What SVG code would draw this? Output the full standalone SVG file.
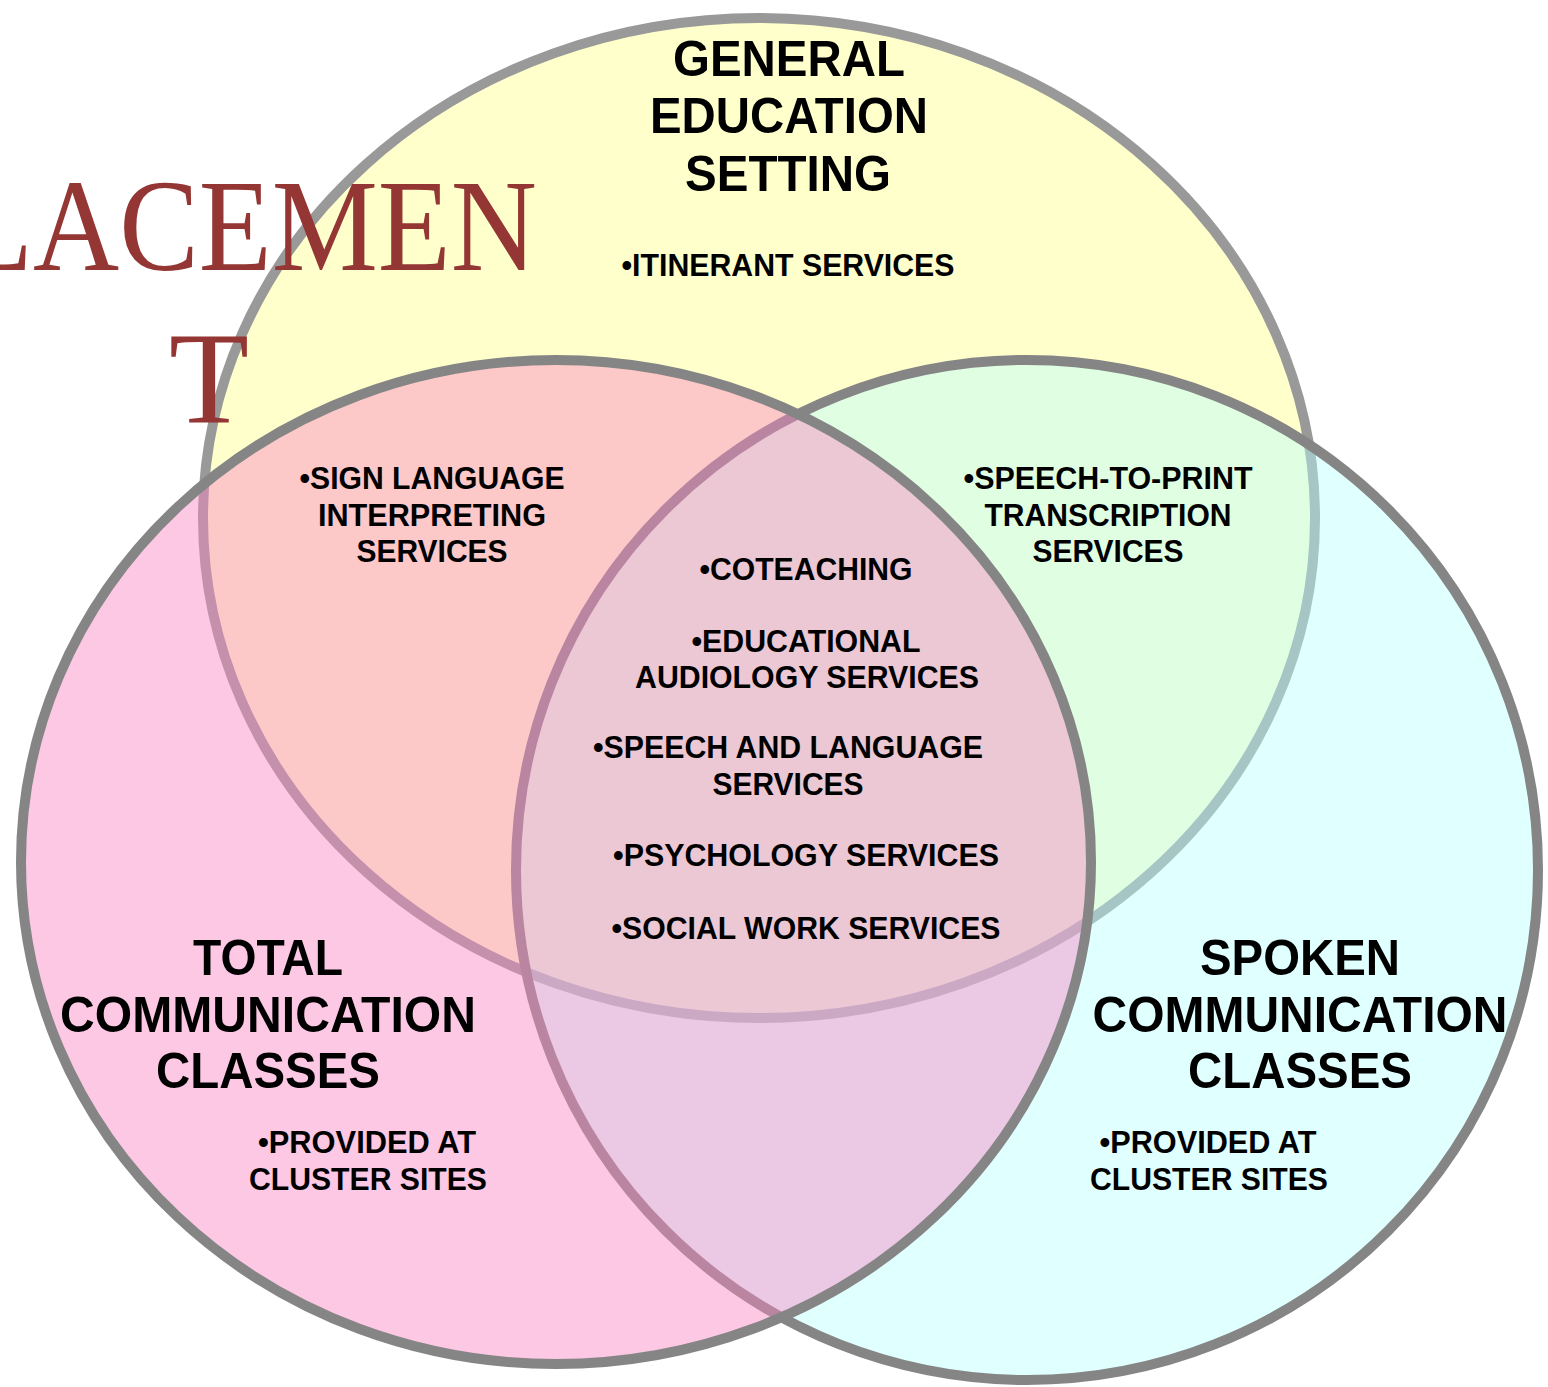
<svg xmlns="http://www.w3.org/2000/svg" width="1548" height="1387" viewBox="0 0 1548 1387">
<style>
.title{font-family:"Liberation Sans",Arial,sans-serif;font-weight:bold;font-size:50px;fill:#000;text-anchor:middle}
.item{font-family:"Liberation Sans",Arial,sans-serif;font-weight:bold;font-size:31px;fill:#000;text-anchor:middle}
.red{font-family:"Liberation Serif","Times New Roman",serif;font-size:131px;fill:#943634}
</style>
<rect width="1548" height="1387" fill="#ffffff"/>
<g id="general-education">
<ellipse cx="759" cy="518" rx="556" ry="500" fill="#FFFFCC" stroke="#999999" stroke-width="10"/>
</g>
<g id="spoken-communication">
<ellipse cx="1027" cy="870" rx="511" ry="510" fill="#B8FFFF" fill-opacity="0.43" stroke="#858585" stroke-width="10"/>
</g>
<g id="total-communication">
<ellipse cx="556" cy="862" rx="535" ry="502" fill="#F885C3" fill-opacity="0.45" stroke="#858585" stroke-width="10"/>
</g>
<g id="connectors"></g>
<g id="placement-title">
<text class="red" x="-40" y="270" textLength="577" lengthAdjust="spacingAndGlyphs">LACEMEN</text>
<text class="red" x="209" y="423" text-anchor="middle">T</text>
</g>
<g id="general-labels">
<text class="title" x="789" y="76" textLength="232" lengthAdjust="spacingAndGlyphs">GENERAL</text>
<text class="title" x="789" y="133" textLength="278" lengthAdjust="spacingAndGlyphs">EDUCATION</text>
<text class="title" x="788" y="191" textLength="206" lengthAdjust="spacingAndGlyphs">SETTING</text>
<text class="item" x="788" y="276" textLength="333" lengthAdjust="spacingAndGlyphs">•ITINERANT SERVICES</text>
</g>
<g id="general-total-overlap">
<text class="item" x="432" y="489" textLength="265" lengthAdjust="spacingAndGlyphs">•SIGN LANGUAGE</text>
<text class="item" x="432" y="526" textLength="228" lengthAdjust="spacingAndGlyphs">INTERPRETING</text>
<text class="item" x="432" y="562" textLength="151" lengthAdjust="spacingAndGlyphs">SERVICES</text>
</g>
<g id="general-spoken-overlap">
<text class="item" x="1108" y="489" textLength="289" lengthAdjust="spacingAndGlyphs">•SPEECH-TO-PRINT</text>
<text class="item" x="1108" y="526" textLength="247" lengthAdjust="spacingAndGlyphs">TRANSCRIPTION</text>
<text class="item" x="1108" y="562" textLength="151" lengthAdjust="spacingAndGlyphs">SERVICES</text>
</g>
<g id="all-overlap">
<text class="item" x="806" y="580" textLength="213" lengthAdjust="spacingAndGlyphs">•COTEACHING</text>
<text class="item" x="806" y="652" textLength="229" lengthAdjust="spacingAndGlyphs">•EDUCATIONAL</text>
<text class="item" x="807" y="688" textLength="344" lengthAdjust="spacingAndGlyphs">AUDIOLOGY SERVICES</text>
<text class="item" x="788" y="758" textLength="390" lengthAdjust="spacingAndGlyphs">•SPEECH AND LANGUAGE</text>
<text class="item" x="788" y="795" textLength="151" lengthAdjust="spacingAndGlyphs">SERVICES</text>
<text class="item" x="806" y="866" textLength="386" lengthAdjust="spacingAndGlyphs">•PSYCHOLOGY SERVICES</text>
<text class="item" x="806" y="939" textLength="389" lengthAdjust="spacingAndGlyphs">•SOCIAL WORK SERVICES</text>
</g>
<g id="total-labels">
<text class="title" x="268" y="975" textLength="150" lengthAdjust="spacingAndGlyphs">TOTAL</text>
<text class="title" x="268" y="1032" textLength="416" lengthAdjust="spacingAndGlyphs">COMMUNICATION</text>
<text class="title" x="268" y="1088" textLength="224" lengthAdjust="spacingAndGlyphs">CLASSES</text>
<text class="item" x="367" y="1153" textLength="218" lengthAdjust="spacingAndGlyphs">•PROVIDED AT</text>
<text class="item" x="368" y="1190" textLength="238" lengthAdjust="spacingAndGlyphs">CLUSTER SITES</text>
</g>
<g id="spoken-labels">
<text class="title" x="1300" y="975" textLength="200" lengthAdjust="spacingAndGlyphs">SPOKEN</text>
<text class="title" x="1300" y="1032" textLength="415" lengthAdjust="spacingAndGlyphs">COMMUNICATION</text>
<text class="title" x="1300" y="1088" textLength="224" lengthAdjust="spacingAndGlyphs">CLASSES</text>
<text class="item" x="1208" y="1153" textLength="217" lengthAdjust="spacingAndGlyphs">•PROVIDED AT</text>
<text class="item" x="1209" y="1190" textLength="238" lengthAdjust="spacingAndGlyphs">CLUSTER SITES</text>
</g>
</svg>
